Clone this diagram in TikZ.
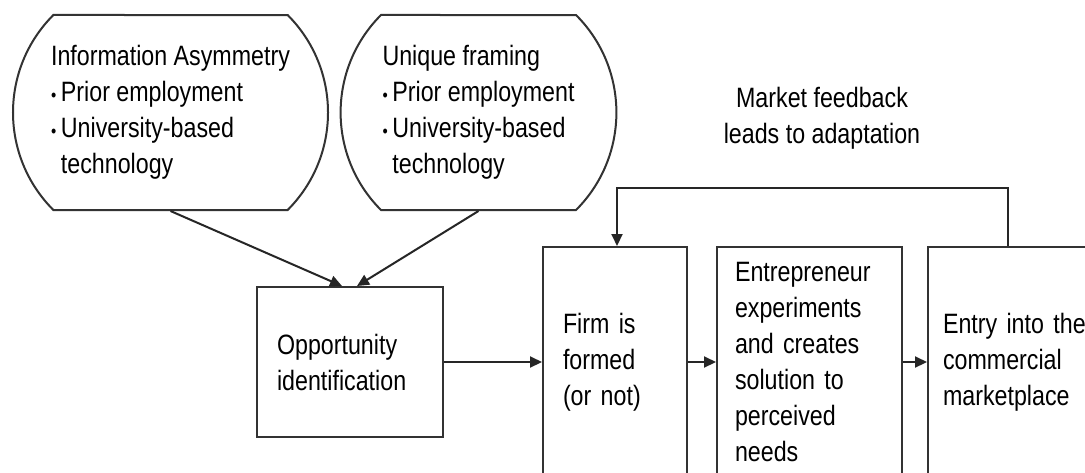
\documentclass[tikz,border=0pt]{standalone}
\usepackage{fontspec}
\setmainfont{Liberation Sans}[FakeStretch=0.83]
\usetikzlibrary{shapes.misc,arrows.meta}
\tikzset{>={Triangle[length=6pt,width=5.5pt]}}
\newcommand{\itm}{{\small\textbullet}\,}

\begin{document}
\begin{tikzpicture}[x=0.5pt,y=-0.5pt,
    every node/.style={font=\fontsize{14}{18}\selectfont,text=black},
    cloud/.style={draw=black!80,line width=1pt,rounded rectangle,rounded rectangle arc length=90,
        inner xsep=0pt,minimum height=97.5pt,align=left},
    blk/.style={draw=black!80,line width=1pt,rectangle,align=left},
    link/.style={->,draw=black!85,line width=1pt}]
  \clip (0,0) rectangle (1085,472);
  \fill[white] (0,0) rectangle (1085,472);

  \node[cloud,minimum width=157.5pt] (asym) at (170.5,112.5)
    {Information Asymmetry\\ \itm Prior employment\\ \itm University-based\\ \phantom{\itm}technology};
  \node[cloud,minimum width=136.5pt] (frame) at (478.5,112.5)
    {Unique framing\\ \itm Prior employment\\ \itm University-based\\ \phantom{\itm}technology};

  \node[blk,minimum height=75pt,inner xsep=10pt,text width=73pt] (opp) at (350,362)
    {Opportunity\\ identification};
  \node[blk,minimum height=115pt,inner xsep=10pt,text width=52pt] (firm) at (615,362)
    {Firm is\\ formed\\ (or not)};
  \node[blk,minimum height=115pt,inner xsep=9pt,text width=74.5pt] (exper) at (809.5,362)
    {Entrepreneur\\ experiments\\ and creates\\ solution to\\ perceived\\ needs};
  \node[blk,minimum height=115pt,inner xsep=7.5pt,text width=72pt] (entry) at (1015,362)
    {Entry into the\\ commercial\\ marketplace};

  \node[align=center] (fbnote) at (822,118) {Market feedback\\ leads to adaptation};

  \coordinate (fbup) at (1008,188);
  \coordinate (fbtop) at (617,188);

  \draw[link] (asym.south) -- ([xshift=-4pt]opp.north);
  \draw[link] (frame.south) -- ([xshift=3.5pt]opp.north);
  \draw[link] (opp.east) -- (firm.west);
  \draw[link] (firm.east) -- (exper.west);
  \draw[link] (exper.east) -- (entry.west);
  \draw[link] (entry.north -| fbup) |- (fbtop) -- (fbtop |- firm.north);
\end{tikzpicture}
\end{document}
